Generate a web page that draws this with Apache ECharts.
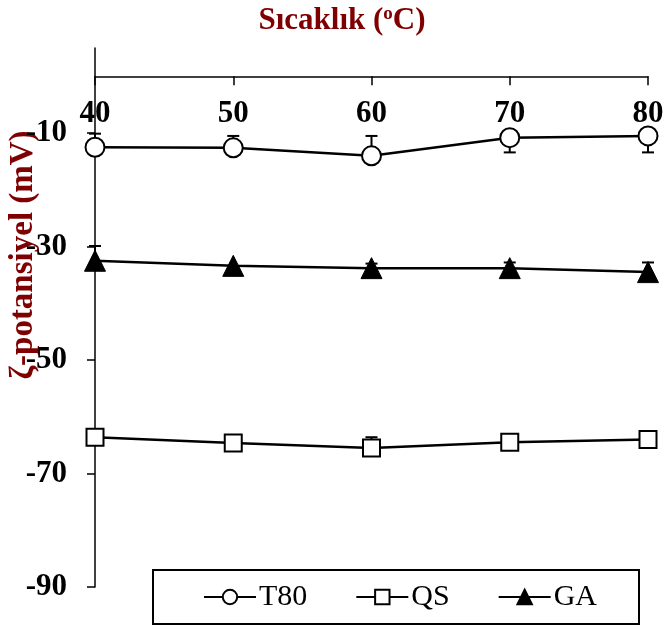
<!DOCTYPE html>
<html>
<head>
<meta charset="utf-8">
<script src="https://cdn.jsdelivr.net/npm/echarts@6/dist/echarts.min.js"></script>
<style>html,body{margin:0;padding:0;background:#fff}#c{width:668px;height:630px}</style>
</head>
<body>
<div id="c"></div>
<script>
var categories = ['40', '50', '60', '70', '80'];
var yTicks = [-90, -70, -50, -30, -10];
var t80 = [-12.5, -12.6, -14.0, -10.8, -10.5];
var t80ErrUp = [2.4, 2.1, 3.5, 0, 0];
var t80ErrDown = [0, 0, 0, 2.6, 2.9];
var qs = [-63.6, -64.6, -65.5, -64.5, -64.0];
var qsErrUp = [0, 0, 1.9, 0, 0];
var qsErrDown = [0, 0, 0, 0, 0];
var ga = [-32.5, -33.4, -33.8, -33.8, -34.5];
var gaErrUp = [2.6, 0, 0.8, 1.0, 1.7];
var gaErrDown = [0, 0, 0, 0, 0];

var FONT = '"Liberation Serif", "Times New Roman", serif';
var DARKRED = '#7f0000';

function errData(vals, up, down) {
  return vals.map(function (v, i) { return [i, v, up[i], down[i]]; });
}
function renderErr(params, api) {
  var i = api.value(0), v = api.value(1), up = api.value(2), dn = api.value(3);
  var children = [];
  var c = api.coord([i, v]);
  var cap = 6;
  var style = { stroke: '#000', lineWidth: 2 };
  if (up > 0) {
    var t = api.coord([i, v + up]);
    children.push({ type: 'line', shape: { x1: c[0], y1: c[1], x2: t[0], y2: t[1] }, style: style });
    children.push({ type: 'line', shape: { x1: t[0] - cap, y1: t[1], x2: t[0] + cap, y2: t[1] }, style: style });
  }
  if (dn > 0) {
    var b = api.coord([i, v - dn]);
    children.push({ type: 'line', shape: { x1: c[0], y1: c[1], x2: b[0], y2: b[1] }, style: style });
    children.push({ type: 'line', shape: { x1: b[0] - cap, y1: b[1], x2: b[0] + cap, y2: b[1] }, style: style });
  }
  return { type: 'group', children: children };
}

var chart = echarts.init(document.getElementById('c'));
var lineCommon = {
  type: 'line',
  lineStyle: { color: '#000', width: 2.5 },
  itemStyle: { color: '#fff', borderColor: '#000', borderWidth: 2 },
  z: 3,
  animation: false
};
chart.setOption({
  animation: false,
  backgroundColor: '#fff',
  title: {
    text: 'Sıcaklık ({sup|o}C)',
    left: 337, top: 0, textAlign: 'center',
    textStyle: {
      fontFamily: FONT, fontSize: 31, fontWeight: 'bold', color: DARKRED,
      rich: { sup: { fontFamily: FONT, fontSize: 19, fontWeight: 'bold', color: DARKRED, verticalAlign: 'top', padding: [0, 0, 12, 0] } }
    }
  },
  graphic: [{
    type: 'text', x: 23, y: 255, rotation: Math.PI / 2,
    style: {
      text: 'ζ-potansiyel (mV)', fontFamily: FONT, fontSize: 33, fontWeight: 'bold',
      fill: DARKRED, align: 'center', verticalAlign: 'middle'
    }
  }],
  grid: { left: 95, right: 20, top: 48, bottom: 43 },
  legend: {
    data: ['T80', 'QS', 'GA'],
    left: 153, top: 570,
    padding: [12, 42, 12, 50],
    itemGap: 48, itemWidth: 52, itemHeight: 18,
    borderColor: '#000', borderWidth: 2,
    textStyle: { fontFamily: FONT, fontSize: 30, color: '#000', padding: [0, 0, 0, -2] }
  },
  xAxis: {
    type: 'category', data: categories, boundaryGap: false, position: 'top',
    axisLine: { onZero: true, lineStyle: { color: '#000', width: 1.5 } },
    axisTick: { inside: true, length: 9, lineStyle: { color: '#000', width: 1.5 } },
    axisLabel: { inside: true, margin: 50, fontFamily: FONT, fontSize: 31, fontWeight: 'bold', color: '#000' },
    splitLine: { show: false }
  },
  yAxis: {
    type: 'value', min: -90, max: 5,
    axisLine: { show: true, onZero: false, lineStyle: { color: '#000', width: 1.5 } },
    axisTick: { show: true, length: 8, customValues: yTicks, lineStyle: { color: '#000', width: 1.5 } },
    axisLabel: { customValues: yTicks, margin: 28, fontFamily: FONT, fontSize: 31, fontWeight: 'bold', color: '#000' },
    splitLine: { show: false }
  },
  series: [
    { type: 'custom', name: 'errT80', renderItem: renderErr, data: errData(t80, t80ErrUp, t80ErrDown), z: 2, silent: true },
    { type: 'custom', name: 'errQS', renderItem: renderErr, data: errData(qs, qsErrUp, qsErrDown), z: 2, silent: true },
    { type: 'custom', name: 'errGA', renderItem: renderErr, data: errData(ga, gaErrUp, gaErrDown), z: 2, silent: true },
    Object.assign({}, lineCommon, { name: 'T80', data: t80, symbol: 'circle', symbolSize: 19 }),
    Object.assign({}, lineCommon, { name: 'QS', data: qs, symbol: 'rect', symbolSize: 17 }),
    Object.assign({}, lineCommon, { name: 'GA', data: ga, symbol: 'triangle', symbolSize: 21,
      itemStyle: { color: '#000', borderColor: '#000', borderWidth: 1 } })
  ]
});
</script>
</body>
</html>
